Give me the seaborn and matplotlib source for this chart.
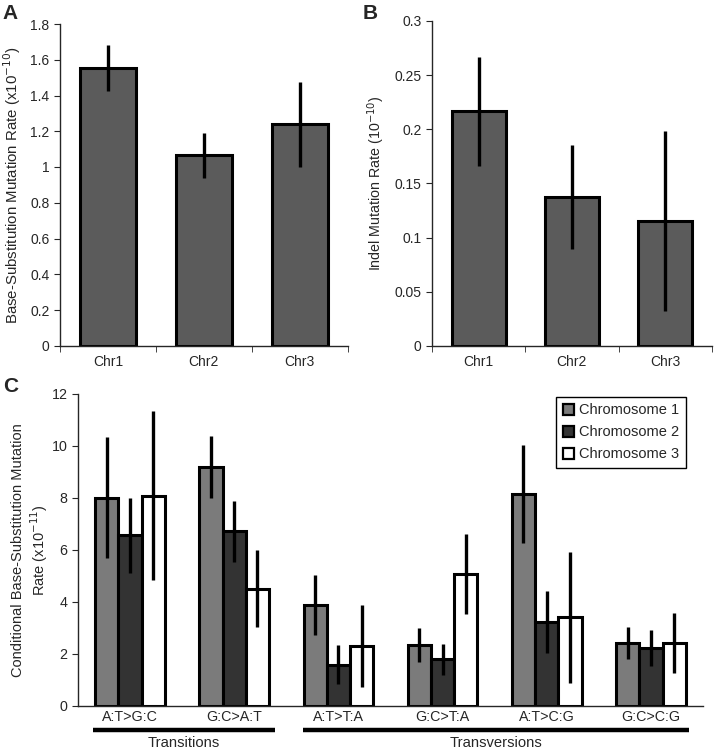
import numpy as np
import pandas as pd
import matplotlib
matplotlib.use('Agg')
import matplotlib.pyplot as plt
import seaborn as sns

sns.set_style('ticks')
plt.rcParams['font.family'] = ['Liberation Sans', 'DejaVu Sans']
plt.rcParams['axes.linewidth'] = 1.0

# ---------------- data ----------------
chroms = ['Chr1', 'Chr2', 'Chr3']
bs_rate = [1.555, 1.065, 1.238]
bs_err = [0.13, 0.125, 0.24]
indel_rate = [0.2165, 0.1375, 0.115]
indel_err = [0.05, 0.048, 0.083]

classes = ['A:T>G:C', 'G:C>A:T', 'A:T>T:A', 'G:C>T:A', 'A:T>C:G', 'G:C>C:G']
series = ['Chromosome 1', 'Chromosome 2', 'Chromosome 3']
chr1_rate = [8.0, 9.18, 3.87, 2.33, 8.14, 2.41]
chr1_err = [2.33, 1.2, 1.16, 0.65, 1.88, 0.61]
chr2_rate = [6.56, 6.71, 1.58, 1.78, 3.22, 2.23]
chr2_err = [1.45, 1.17, 0.76, 0.6, 1.18, 0.7]
chr3_rate = [8.09, 4.51, 2.28, 5.06, 3.41, 2.40]
chr3_err = [3.27, 1.47, 1.58, 1.54, 2.52, 1.15]

bar_grey = '#5b5b5b'
series_colors = ['#7b7b7b', '#333333', '#ffffff']

fig = plt.figure(figsize=(7.14, 7.5), dpi=100)
axA = fig.add_axes([0.084, 0.539, 0.403, 0.429])
axB = fig.add_axes([0.605, 0.539, 0.392, 0.433])
axC = fig.add_axes([0.1092, 0.0591, 0.8754, 0.4156])


def simple_panel(ax, vals, errs, ylim, yticks, ylabel, lab_size):
    df = pd.DataFrame({'chr': chroms, 'rate': vals})
    sns.barplot(data=df, x='chr', y='rate', color=bar_grey, saturation=1,
                edgecolor='black', linewidth=2.2, width=0.58, errorbar=None, ax=ax)
    xs = [p.get_x() + p.get_width() / 2 for p in ax.patches]
    ax.errorbar(xs, vals, yerr=errs, fmt='none', ecolor='black', elinewidth=2.4, capsize=0)
    ax.set_xlim(-0.5, len(chroms) - 0.5)
    ax.set_ylim(*ylim)
    ax.set_yticks(yticks)
    ax.set_yticklabels([f'{t:g}' for t in yticks], fontsize=10)
    ax.set_xticks(range(len(chroms)))
    ax.set_xticklabels(chroms, fontsize=10)
    ax.set_xticks(np.arange(-0.5, len(chroms)), minor=True)
    ax.tick_params(axis='x', which='major', length=0, pad=7)
    ax.tick_params(axis='x', which='minor', length=4, direction='out')
    ax.tick_params(axis='y', length=4, direction='out')
    ax.set_xlabel('')
    ax.set_ylabel(ylabel, fontsize=lab_size, labelpad=5)
    sns.despine(ax=ax)


simple_panel(axA, bs_rate, bs_err, (0, 1.8), np.round(np.arange(0, 1.81, 0.2), 1),
             'Base-Substitution Mutation Rate (x10$^{-10}$)', 10.8)
simple_panel(axB, indel_rate, indel_err, (0, 0.3), np.round(np.arange(0, 0.301, 0.05), 2),
             'Indel Mutation Rate (10$^{-10}$)', 10.3)

# ---------------- panel C ----------------
rates = [chr1_rate, chr2_rate, chr3_rate]
errs = [chr1_err, chr2_err, chr3_err]
dfC = pd.DataFrame({
    'cls': classes * 3,
    'series': np.repeat(series, len(classes)),
    'rate': chr1_rate + chr2_rate + chr3_rate,
})
sns.barplot(data=dfC, x='cls', y='rate', hue='series', palette=series_colors, saturation=1,
            edgecolor='black', linewidth=2.2, width=0.67, errorbar=None, ax=axC)
bars = [p for p in axC.patches if p.get_height() > 0 or p.get_width() > 0][:3 * len(classes)]
for i in range(3):
    group = bars[i * len(classes):(i + 1) * len(classes)]
    xs = [p.get_x() + p.get_width() / 2 for p in group]
    axC.errorbar(xs, rates[i], yerr=errs[i], fmt='none', ecolor='black', elinewidth=2.4, capsize=0, zorder=5)

axC.set_xlim(-0.5, len(classes) - 0.5)
axC.set_ylim(0, 12)
axC.set_yticks(range(0, 13, 2))
axC.set_yticklabels([str(t) for t in range(0, 13, 2)], fontsize=10.3)
axC.set_xticks(range(len(classes)))
axC.set_xticklabels(classes, fontsize=10.3)
axC.tick_params(axis='x', length=0, pad=3.2)
axC.tick_params(axis='y', length=4, direction='out')
axC.set_xlabel('')
axC.set_ylabel('Conditional Base-Substitution Mutation\nRate (x10$^{-11}$)', fontsize=10.5, labelpad=1)
sns.despine(ax=axC)

leg = axC.legend(loc='upper right', bbox_to_anchor=(0.973, 0.991), borderaxespad=0, fontsize=10.5,
                 frameon=True, fancybox=False, framealpha=1, handlelength=0.75, handleheight=0.75,
                 handletextpad=0.4, borderpad=0.45, labelspacing=0.55, title=None)
leg.set_zorder(10)
leg.get_frame().set_edgecolor('black')
leg.get_frame().set_linewidth(1.0)
for h in leg.legend_handles:
    h.set_linewidth(1.6)
    h.set_edgecolor('black')

# group brackets under x labels
trans = axC.get_xaxis_transform()
for x0, x1, label in [(-0.356, 1.39, 'Transitions'), (1.66, 5.37, 'Transversions')]:
    axC.plot([x0, x1], [-0.0796, -0.0796], color='black', lw=3.2, transform=trans, clip_on=False,
             solid_capstyle='butt')
    axC.text((x0 + x1) / 2, -0.096, label, transform=trans, ha='center', va='top', fontsize=10.6)

# panel letters
fig.text(0.004, 0.995, 'A', fontsize=15, fontweight='bold', va='top')
fig.text(0.508, 0.995, 'B', fontsize=15, fontweight='bold', va='top')
fig.text(0.004, 0.497, 'C', fontsize=15, fontweight='bold', va='top')

fig.savefig('out.png', dpi=100)
